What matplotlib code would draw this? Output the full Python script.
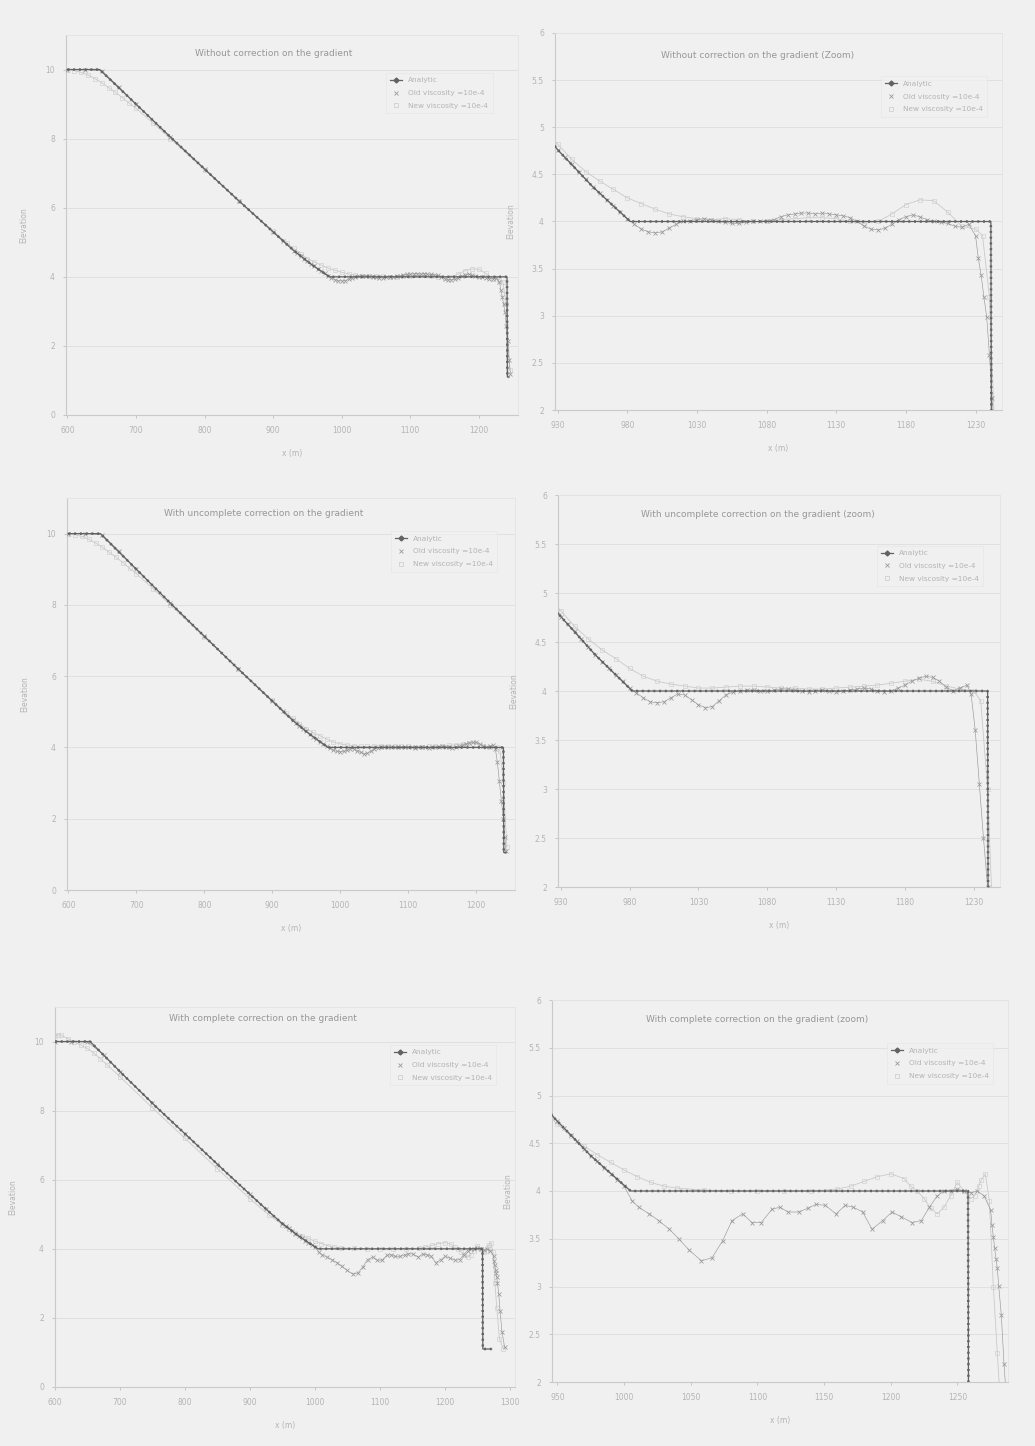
import matplotlib
matplotlib.use("Agg")
import matplotlib.pyplot as plt
from matplotlib.ticker import FuncFormatter, MultipleLocator
from matplotlib.lines import Line2D

# ---- analytic profiles (breakpoints) ----
ana1_x = [600, 647, 700, 750, 800, 850, 900, 930, 955, 982, 1241, 1241.5, 1244]
ana1_y = [10, 10, 9.0, 8.05, 7.12, 6.2, 5.3, 4.76, 4.37, 4.0, 4.0, 1.1, 1.1]

ana2_x = [600, 647, 700, 750, 800, 850, 900, 930, 955, 982, 1240, 1240.5, 1244]
ana2_y = [10, 10, 9.0, 8.05, 7.12, 6.2, 5.3, 4.76, 4.37, 4.0, 4.0, 1.05, 1.05]

ana3_x = [600, 654, 707, 759, 812, 864, 916, 948, 975, 1005, 1258, 1258.5, 1272]
ana3_y = [10, 10, 9.0, 8.05, 7.12, 6.2, 5.3, 4.76, 4.37, 4.0, 4.0, 1.1, 1.1]

# ---- old viscosity ----
old1_x = [600, 625, 650, 675, 700, 750, 800, 850, 900, 915,
          930, 935, 940, 945, 950, 955, 960, 965, 970, 975, 980, 985, 990, 995,
          1000, 1005, 1010, 1015, 1020, 1025, 1030, 1035, 1040, 1045, 1050, 1055,
          1060, 1065, 1070, 1075, 1080, 1085, 1090, 1095, 1100, 1105, 1110, 1115,
          1120, 1125, 1130, 1135, 1140, 1145, 1150, 1155, 1160, 1165, 1170, 1175,
          1180, 1185, 1190, 1195, 1200, 1205, 1210, 1215, 1220, 1225, 1230,
          1232, 1234, 1236, 1238, 1240, 1242, 1244, 1246]
old1_y = [10, 10, 9.97, 9.5, 9.0, 8.05, 7.12, 6.2, 5.3, 5.03,
          4.76, 4.68, 4.61, 4.53, 4.45, 4.37, 4.3, 4.23, 4.16, 4.1, 4.03, 3.97, 3.92, 3.89,
          3.88, 3.89, 3.93, 3.97, 4.0, 4.01, 4.02, 4.03, 4.02, 4.0, 3.99, 3.98,
          3.98, 3.99, 4.0, 4.0, 4.01, 4.02, 4.05, 4.07, 4.08, 4.09, 4.09, 4.08,
          4.09, 4.08, 4.07, 4.06, 4.04, 4.0, 3.95, 3.92, 3.91, 3.93, 3.97, 4.02,
          4.05, 4.07, 4.05, 4.02, 4.0, 3.99, 3.98, 3.95, 3.94, 3.97, 3.85,
          3.61, 3.43, 3.2, 2.99, 2.58, 2.13, 1.6, 1.2]

old2_x = [600, 625, 650, 675, 700, 750, 800, 850, 900, 915,
          930, 935, 940, 945, 950, 955, 960, 965, 970, 975, 980, 985, 990, 995,
          1000, 1005, 1010, 1015, 1020, 1025, 1030, 1035, 1040, 1045, 1050, 1055,
          1060, 1065, 1070, 1075, 1080, 1085, 1090, 1095, 1100, 1105, 1110, 1115,
          1120, 1125, 1130, 1135, 1140, 1145, 1150, 1155, 1160, 1165, 1170, 1175,
          1180, 1185, 1190, 1195, 1200, 1205, 1210, 1215, 1220, 1225,
          1228, 1231, 1234, 1237, 1240, 1242, 1244]
old2_y = [10, 10, 9.97, 9.5, 9.0, 8.05, 7.12, 6.2, 5.3, 5.03,
          4.76, 4.68, 4.61, 4.53, 4.45, 4.37, 4.3, 4.23, 4.16, 4.1, 4.03, 3.98, 3.93, 3.89,
          3.88, 3.89, 3.93, 3.97, 3.96, 3.91, 3.86, 3.83, 3.84, 3.9, 3.96, 3.99,
          4.0, 4.01, 4.01, 4.0, 4.0, 4.01, 4.02, 4.02, 4.01, 4.0, 3.99, 4.0,
          4.01, 4.0, 3.99, 4.0, 4.01, 4.02, 4.03, 4.02, 4.0, 3.99, 4.0, 4.03,
          4.06, 4.1, 4.13, 4.15, 4.14, 4.1, 4.04, 4.0, 4.03, 4.06,
          3.97, 3.6, 3.05, 2.5, 2.0, 1.5, 1.1]

old3_x = [600, 625, 650, 675, 700, 750, 800, 850, 900, 925,
          950, 955, 960, 965, 970, 975, 980, 985, 990, 995, 1000,
          1006, 1011, 1019, 1026, 1034, 1041, 1049, 1058, 1066, 1074, 1081, 1089,
          1096, 1103, 1111, 1117, 1123, 1131, 1138, 1144, 1151, 1159, 1166, 1172,
          1179, 1186, 1194, 1201, 1208, 1216, 1223, 1229, 1235, 1240, 1245, 1250,
          1255, 1260, 1265, 1270, 1275, 1276, 1277, 1278, 1279, 1280, 1281, 1283,
          1285, 1288, 1292]
old3_y = [10, 10, 9.99, 9.62, 9.13, 8.21, 7.33, 6.45, 5.58, 5.15,
          4.73, 4.66, 4.59, 4.52, 4.44, 4.37, 4.31, 4.24, 4.18, 4.12, 4.05,
          3.9, 3.83, 3.76, 3.69, 3.6, 3.5, 3.38, 3.27, 3.3, 3.48, 3.69, 3.76,
          3.67, 3.67, 3.81, 3.83, 3.78, 3.78, 3.82, 3.86, 3.85, 3.76, 3.85, 3.83,
          3.78, 3.6, 3.69, 3.78, 3.73, 3.67, 3.69, 3.83, 3.95, 4.0, 4.0, 4.02,
          4.0, 3.98, 4.0, 3.95, 3.8, 3.64, 3.52, 3.4, 3.29, 3.19, 3.01, 2.7,
          2.19, 1.6, 1.15]

# ---- new viscosity ----
new12_x = [600, 610, 620, 630, 640, 650, 660, 670, 680, 690, 700, 725, 750, 800,
           850, 900, 920, 930, 940, 950, 960, 970, 980, 990, 1000, 1010, 1020,
           1030, 1040, 1050, 1060, 1070, 1080, 1090, 1100, 1110, 1120, 1130,
           1140, 1150, 1160, 1170, 1180, 1190, 1200, 1210, 1220, 1230, 1235,
           1240, 1245]
new1_y = [10, 9.97, 9.92, 9.84, 9.74, 9.62, 9.48, 9.34, 9.19, 9.03, 8.88, 8.45, 8.0, 7.1,
          6.2, 5.33, 4.98, 4.82, 4.66, 4.53, 4.43, 4.34, 4.25, 4.19, 4.13, 4.08, 4.05,
          4.03, 4.02, 4.03, 4.02, 4.0, 4.0, 4.02, 4.03, 4.04, 4.04, 4.03,
          4.0, 3.98, 4.0, 4.08, 4.18, 4.23, 4.22, 4.1, 3.95, 3.92, 3.85,
          3.2, 1.3]
new2_y = [10, 9.97, 9.92, 9.84, 9.74, 9.62, 9.48, 9.34, 9.19, 9.03, 8.88, 8.45, 8.0, 7.1,
          6.2, 5.33, 4.98, 4.82, 4.66, 4.53, 4.42, 4.33, 4.23, 4.15, 4.1, 4.07, 4.05,
          4.03, 4.03, 4.04, 4.05, 4.05, 4.04, 4.03, 4.03, 4.02, 4.02, 4.03,
          4.04, 4.05, 4.06, 4.08, 4.1, 4.12, 4.1, 4.05, 4.02, 4.0, 3.9,
          3.0, 1.2]

new3_x = [600, 605, 610, 620, 630, 640, 650, 660, 670, 680, 700, 750, 800, 850,
          900, 930, 950, 960, 970, 980, 990, 1000, 1010, 1020, 1030, 1040, 1060,
          1080, 1100, 1120, 1140, 1160, 1170, 1180, 1190, 1200, 1210, 1215, 1220,
          1225, 1230, 1235, 1240, 1245, 1250, 1255, 1260, 1263, 1266, 1268, 1271,
          1274, 1277, 1280, 1284, 1290]
new3_y = [10.15, 10.2, 10.18, 10.08, 9.98, 9.9, 9.8, 9.66, 9.5, 9.33, 8.98, 8.08, 7.2, 6.32,
          5.45, 4.97, 4.7, 4.58, 4.47, 4.38, 4.3, 4.22, 4.15, 4.09, 4.05, 4.03, 4.01,
          4.0, 4.0, 4.0, 4.0, 4.02, 4.05, 4.1, 4.15, 4.18, 4.13, 4.05, 4.0,
          3.92, 3.82, 3.76, 3.83, 3.95, 4.09, 4.0, 3.92, 3.95, 4.05, 4.12, 4.18,
          3.9, 3.0, 2.3, 1.4, 1.1]

titles = ["Without correction on the gradient",
          "Without correction on the gradient (Zoom)",
          "With uncomplete correction on the gradient",
          "With uncomplete correction on the gradient (zoom)",
          "With complete correction on the gradient",
          "With complete correction on the gradient (zoom)"]
labels = ["Analytic", "Old viscosity =10e-4", "New viscosity =10e-4"]

cases = [
    (ana1_x, ana1_y, old1_x, old1_y, new12_x, new1_y),
    (ana2_x, ana2_y, old2_x, old2_y, new12_x, new2_y),
    (ana3_x, ana3_y, old3_x, old3_y, new3_x, new3_y),
]

BG = "#f0f0f0"
TXT = "#b4b4b4"
C_ANA = "#626262"
C_OLD = "#999999"
C_NEW = "#cacaca"

W, H = 1035, 1446
fig = plt.figure(figsize=(W / 100, H / 100), dpi=100, facecolor=BG)


def rect(l, t, r, b):
    return [l / W, 1 - b / H, (r - l) / W, (b - t) / H]


# axes boxes in pixels (left, top, right, bottom)
boxes = [(66, 35, 518, 415), (555, 33, 1002, 410),
         (67, 498, 515, 890), (558, 495, 1000, 887),
         (55, 1007, 515, 1387), (552, 1000, 1008, 1382)]
title_pos = [(0.46, 0.95), (0.454, 0.94), (0.44, 0.96),
             (0.452, 0.95), (0.452, 0.97), (0.45, 0.95)]
legend_pos = [(0.70, 0.91), (0.72, 0.895), (0.714, 0.925),
              (0.713, 0.88), (0.72, 0.91), (0.726, 0.897)]
xlims = [(598, 1257), (928, 1249), (598, 1257), (928, 1249), (600, 1308), (946, 1288)]
xticks = [range(600, 1201, 100), range(930, 1231, 50),
          range(600, 1201, 100), range(930, 1231, 50),
          range(600, 1301, 100), range(950, 1251, 50)]

fmt = FuncFormatter(lambda v, p: "%g" % v)

for i, box in enumerate(boxes):
    ax = fig.add_axes(rect(*box), facecolor=BG)
    ax_x, ax_y, o_x, o_y, n_x, n_y = cases[i // 2]
    zoom = i % 2 == 1

    ax.plot(n_x, n_y, color=C_NEW, lw=0.6, marker="s", ms=2.2, mfc="none",
            mec=C_NEW, mew=0.4, zorder=2)
    ax.plot(o_x, o_y, color=C_OLD, lw=0.45, marker="x", ms=2.6, mew=0.55, zorder=3)
    ax.plot(ax_x, ax_y, color=C_ANA, lw=0.9, zorder=4)
    # beaded look of the densely sampled analytic nodes
    ax.plot(ax_x, ax_y, color=C_ANA, lw=1.8, linestyle=(0, (0.8, 1.5)), zorder=4)

    ax.set_xlim(*xlims[i])
    ax.set_xticks(list(xticks[i]))
    if zoom:
        ax.set_ylim(2, 6)
        ax.yaxis.set_major_locator(MultipleLocator(0.5))
    else:
        ax.set_ylim(0, 11)
        ax.set_yticks([0, 2, 4, 6, 8, 10])
    ax.yaxis.set_major_formatter(fmt)
    ax.xaxis.set_major_formatter(fmt)

    ax.grid(axis="y", color="#e0e0e0", lw=0.7)
    ax.set_axisbelow(True)
    for s in ["top", "right"]:
        ax.spines[s].set_color("#e3e3e3")
        ax.spines[s].set_linewidth(0.6)
    for s in ["left", "bottom"]:
        ax.spines[s].set_color("#cacaca")
        ax.spines[s].set_linewidth(0.8)
    ax.tick_params(labelsize=5.5, colors=TXT, length=2, width=0.5, pad=6)

    ax.set_xlabel("x (m)", fontsize=5.5, color=TXT, labelpad=10)
    ax.set_ylabel("Elevation", fontsize=5.5, color=TXT, labelpad=12)

    tx, ty = title_pos[i]
    ax.text(tx, ty, titles[i], transform=ax.transAxes, ha="center", va="center",
            fontsize=6.5, color="#979797")

    handles = [
        Line2D([], [], color=C_ANA, lw=0.9, marker="D", ms=2.5),
        Line2D([], [], color=C_OLD, lw=0, marker="x", ms=3, mew=0.6),
        Line2D([], [], color=C_NEW, lw=0, marker="s", ms=2.6, mfc="none", mew=0.5),
    ]
    leg = ax.legend(handles, labels, loc="upper left", bbox_to_anchor=legend_pos[i],
                    fontsize=5.3, frameon=True, handlelength=1.6, borderpad=0.6,
                    labelspacing=0.9, labelcolor=TXT)
    leg.get_frame().set_facecolor(BG)
    leg.get_frame().set_edgecolor("#e4e4e4")
    leg.get_frame().set_linewidth(0.5)
    leg.get_frame().set_boxstyle("square", pad=0)

fig.savefig("out.png", dpi=100, facecolor=BG)
